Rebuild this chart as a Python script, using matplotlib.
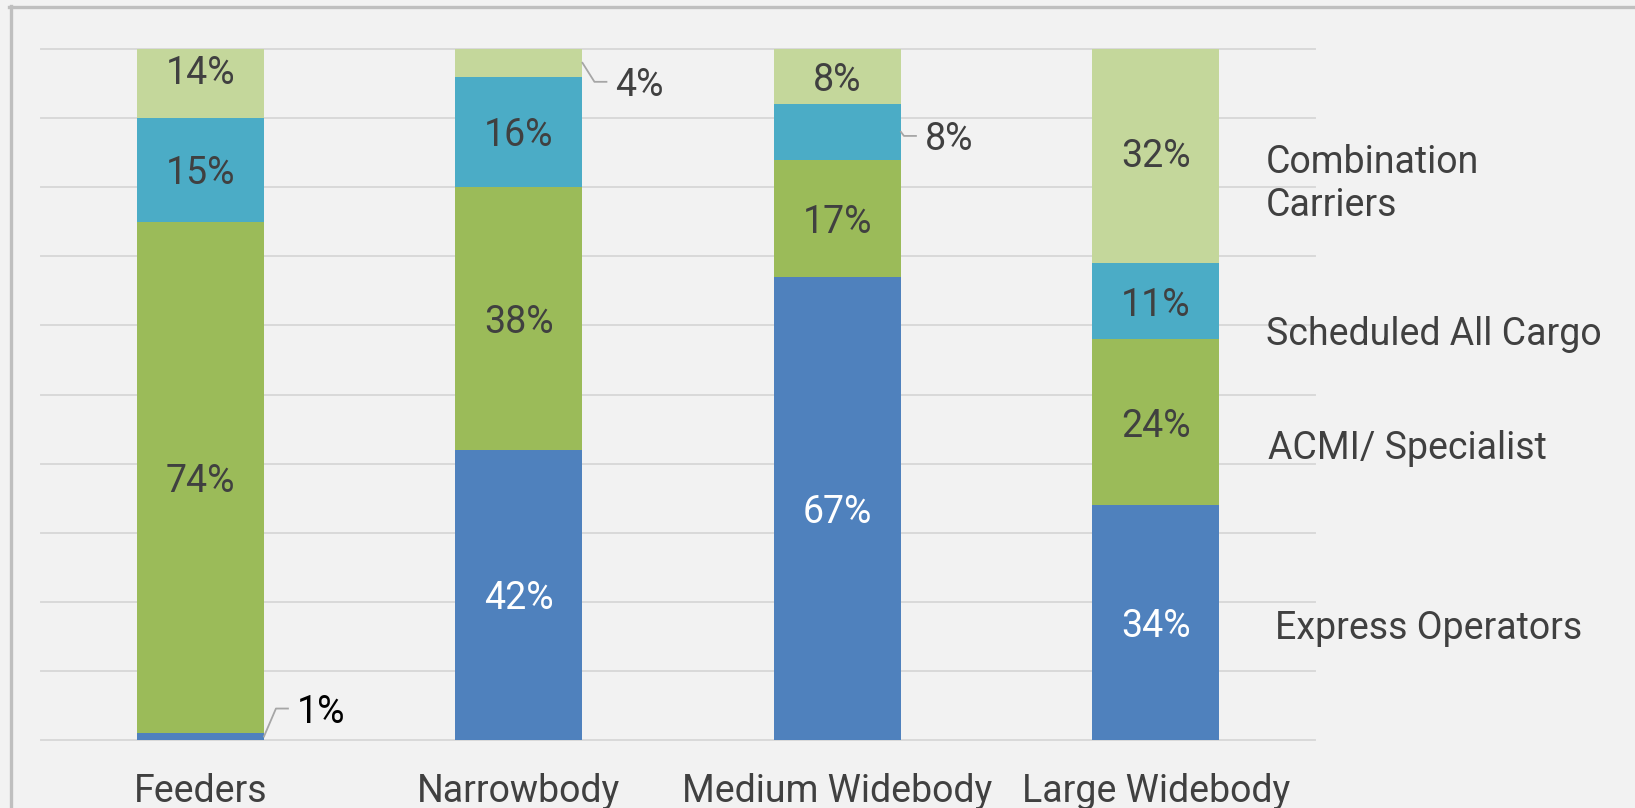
import numpy as np
import matplotlib
matplotlib.use("Agg")
import matplotlib.pyplot as plt
from matplotlib.lines import Line2D

plt.rcParams['font.family'] = ['Roboto', 'DejaVu Sans']

categories = ["Feeders", "Narrowbody", "Medium Widebody", "Large Widebody"]
express = [1, 42, 67, 34]
acmi = [74, 38, 17, 24]
scheduled = [15, 16, 8, 11]
combination = [14, 4, 8, 32]
series_names = ["Express Operators", "ACMI/ Specialist", "Scheduled All Cargo",
                "Combination\nCarriers"]
series_label_y = [16.7, 42.7, 59.2, 81.5]
series_label_x = [3.374, 3.352, 3.346, 3.346]

colors = ["#4f81bd", "#9bbb59", "#4bacc6", "#c4d79b"]
text_col = "#404040"
bg = "#f2f2f2"

W, H = 1635, 808
fig = plt.figure(figsize=(W / 100, H / 100), dpi=100, facecolor=bg)
ax = fig.add_axes([41 / W, 1 - 740 / H, (1315 - 41) / W, (740 - 49) / H])
ax.set_facecolor(bg)

x = np.arange(len(categories))
series = [express, acmi, scheduled, combination]
bottom = np.zeros(len(categories))
# small segments labelled outside the bar: (series, category) -> leader offsets in px
outside = {
    (0, 0): [(0, 0), (12, 28), (24, 28)],
    (3, 1): [(0, 0), (12, -19), (24, -19)],
    (2, 2): [(0, 0), (3, -4), (15, -4)],
}
label_gap = 9

ax.set_xlim(-0.5, 3.5)
ax.set_ylim(0, 100)
fig.canvas.draw()
to_disp = ax.transData
to_data = ax.transData.inverted()

for si, vals in enumerate(series):
    ax.bar(x, vals, width=0.4, bottom=bottom, color=colors[si], zorder=2)
    for ci, v in enumerate(vals):
        mid = bottom[ci] + v / 2
        lab = f"{v}%"
        if (si, ci) in outside:
            x0, y0 = to_disp.transform((x[ci] + 0.2, mid))
            pts = [to_data.transform((x0 + dx, y0 + dy)) for dx, dy in outside[(si, ci)]]
            pts = np.array(pts)
            ax.plot(pts[:, 0], pts[:, 1], color="#a6a6a6", lw=1.3, zorder=3, clip_on=False)
            tx, ty = to_data.transform((x0 + outside[(si, ci)][-1][0] + label_gap,
                                        y0 + outside[(si, ci)][-1][1]))
            ax.text(tx, ty, lab, ha="left", va="center_baseline", fontsize=27,
                    color="black" if si == 0 else text_col, zorder=4)
        else:
            ax.text(x[ci], mid, lab, ha="center", va="center_baseline", fontsize=27,
                    color="white" if si == 0 else text_col, zorder=4)
    bottom += np.array(vals)

for name, xx, yy in zip(series_names, series_label_x, series_label_y):
    ax.text(xx, yy, name, ha="left", va="center_baseline", fontsize=27, color=text_col,
            linespacing=1.2, zorder=4)

ax.set_yticks(np.arange(0, 101, 10))
ax.grid(axis="y", color="#d9d9d9", lw=1.4, zorder=0)
ax.set_axisbelow(True)
for gl in ax.get_ygridlines():
    gl.set_clip_on(False)
ax.tick_params(axis="y", left=False, labelleft=False)
ax.set_xticks(x)
ax.set_xticklabels(categories, fontsize=27, color=text_col)
ax.tick_params(axis="x", length=0, pad=24)
for s in ax.spines.values():
    s.set_visible(False)

# outer frame (only top and left edges visible in the crop)
fig.add_artist(Line2D([9 / W, 1], [1 - 7 / H, 1 - 7 / H], color="#bfbfbf", lw=2.4))
fig.add_artist(Line2D([10.5 / W, 10.5 / W], [0, 1 - 6 / H], color="#bfbfbf", lw=2.4))

fig.savefig("out.png", dpi=100, facecolor=bg)
